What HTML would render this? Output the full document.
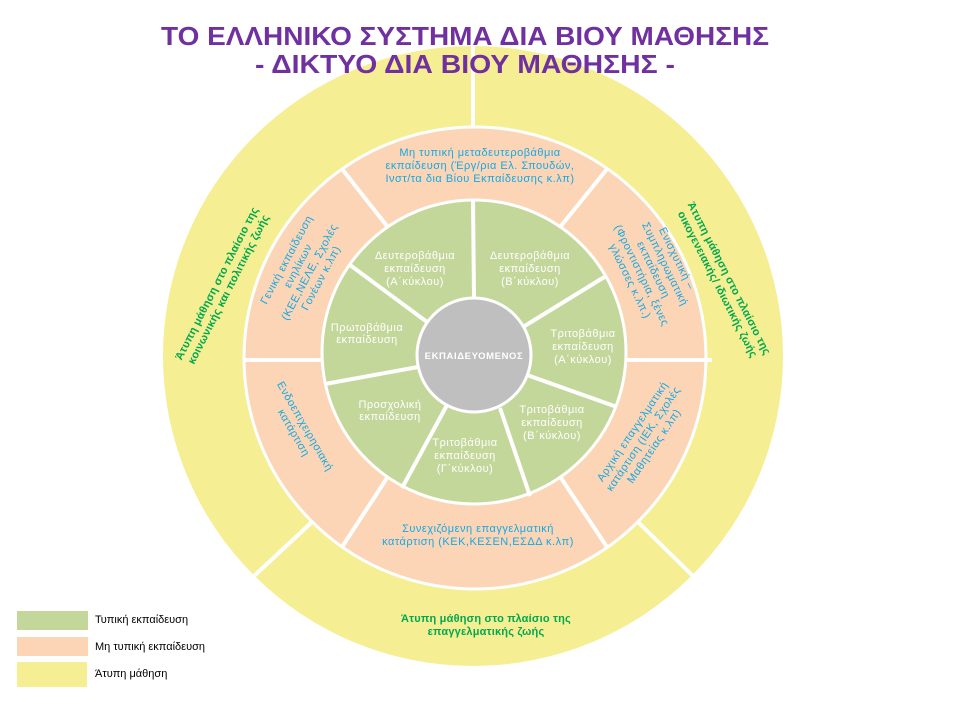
<!DOCTYPE html>
<html><head><meta charset="utf-8"><style>
html,body{margin:0;padding:0;background:#fff;}
svg{display:block;}
text{font-family:"Liberation Sans","DejaVu Sans",sans-serif;}
.b{fill:#14a9e6;font-size:11px;letter-spacing:0.5px;}
.w{fill:#fff;font-size:11px;letter-spacing:0.5px;}
.g{fill:#00a84f;font-size:11px;font-weight:bold;letter-spacing:0.2px;}
.l{fill:#000;font-size:11px;}
</style></head><body>
<svg width="960" height="720" viewBox="0 0 960 720" xmlns="http://www.w3.org/2000/svg">
<rect width="960" height="720" fill="#fff"/>
<circle cx="473" cy="356" r="310" fill="#f5ee93"/>
<circle cx="475" cy="358" r="231" fill="#fbd5b5" stroke="#fff" stroke-width="3"/>
<circle cx="474" cy="352" r="152" fill="#c4d79b" stroke="#fff" stroke-width="3"/>
<circle cx="474" cy="355" r="57" fill="#bfbfbf" stroke="#fff" stroke-width="3"/>
<g stroke="#fff" stroke-width="4">
<line x1="473" y1="44" x2="473" y2="128"/>
<line x1="254" y1="576" x2="312" y2="522"/>
<line x1="693" y1="576" x2="638" y2="522"/>
<line x1="387" y1="226" x2="342" y2="169"/>
<line x1="561" y1="226" x2="607" y2="169"/>
<line x1="322" y1="360" x2="243" y2="360"/>
<line x1="626" y1="360" x2="712" y2="360"/>
<line x1="387" y1="478" x2="342" y2="547"/>
<line x1="561" y1="478" x2="607" y2="547"/>
<line x1="474" y1="298" x2="473" y2="200"/>
<line x1="427" y1="322" x2="350" y2="265"/>
<line x1="418" y1="367" x2="325" y2="384"/>
<line x1="447" y1="405" x2="402" y2="488"/>
<line x1="500" y1="408" x2="530" y2="496"/>
<line x1="527" y1="375" x2="617" y2="407"/>
<line x1="523" y1="327" x2="606" y2="276"/>
</g>
<text x="465" y="45" text-anchor="middle" font-size="26" font-weight="bold" fill="#7030a0" textLength="608" lengthAdjust="spacingAndGlyphs">ΤΟ ΕΛΛΗΝΙΚΟ ΣΥΣΤΗΜΑ ΔΙΑ ΒΙΟΥ ΜΑΘΗΣΗΣ</text>
<text x="465" y="73" text-anchor="middle" font-size="26" font-weight="bold" fill="#7030a0" textLength="420" lengthAdjust="spacingAndGlyphs">- ΔΙΚΤΥΟ ΔΙΑ ΒΙΟΥ ΜΑΘΗΣΗΣ -</text>

<text x="474" y="359" text-anchor="middle" font-size="9.5" font-weight="bold" fill="#fff" letter-spacing="0.6">ΕΚΠΑΙΔΕΥΟΜΕΝΟΣ</text>

<g class="w" text-anchor="middle">
<text x="415" y="259">Δευτεροβάθμια</text><text x="415" y="272">εκπαίδευση</text><text x="415" y="285">(Α΄κύκλου)</text>
<text x="530" y="259">Δευτεροβάθμια</text><text x="530" y="272">εκπαίδευση</text><text x="530" y="285">(Β΄κύκλου)</text>
<text x="583" y="337">Τριτοβάθμια</text><text x="583" y="350">εκπαίδευση</text><text x="583" y="363">(Α΄κύκλου)</text>
<text x="552" y="413">Τριτοβάθμια</text><text x="552" y="426">εκπαίδευση</text><text x="552" y="439">(Β΄κύκλου)</text>
<text x="465" y="446">Τριτοβάθμια</text><text x="465" y="459">εκπαίδευση</text><text x="465" y="472">(Γ΄κύκλου)</text>
<text x="390" y="408">Προσχολική</text><text x="390" y="420">εκπαίδευση</text>
<text x="367" y="331">Πρωτοβάθμια</text><text x="367" y="343">εκπαίδευση</text>
</g>

<g class="b" text-anchor="middle">
<text x="480" y="156">Μη τυπική μεταδευτεροβάθμια</text>
<text x="480" y="169">εκπαίδευση (Έργ/ρια Ελ. Σπουδών,</text>
<text x="480" y="182">Ινστ/τα δια Βίου Εκπαίδευσης κ.λπ)</text>
<text x="478" y="532">Συνεχιζόμενη επαγγελματική</text>
<text x="478" y="545">κατάρτιση (ΚΕΚ,ΚΕΣΕΝ,ΕΣΔΔ κ.λπ)</text>
<g transform="translate(302,268) rotate(-62)">
<text x="0" y="-14">Γενική εκπαίδευση</text><text x="0" y="-1">ενηλίκων</text><text x="0" y="12">(ΚΕΕ,ΝΕΛΕ, Σχολές</text><text x="0" y="25">Γονέων κ.λπ)</text>
</g>
<g transform="translate(661,266) rotate(64)">
<text x="0" y="-14">Ενισχυτική –</text><text x="0" y="-1">Συμπληρωματική</text><text x="0" y="12">εκπαίδευση</text><text x="0" y="25">(Φροντιστήρια, ξένες</text><text x="0" y="38">γλώσσες κ.λπ.)</text>
</g>
<g transform="translate(302,428) rotate(60)">
<text x="0" y="0">Ενδοεπιχειρησιακή</text><text x="0" y="13">κατάρτιση</text>
</g>
<g transform="translate(642,438) rotate(-56)">
<text x="0" y="-8">Αρχική επαγγελματική</text><text x="0" y="5">κατάρτιση (ΙΕΚ, Σχολές</text><text x="0" y="18">Μαθητείας κ.λπ)</text>
</g>
</g>

<g class="g" text-anchor="middle">
<g transform="translate(220,285) rotate(-63)">
<text x="0" y="0">Άτυπη μάθηση στο πλαίσιο της</text><text x="0" y="13">κοινωνικής και πολιτικής ζωής</text>
</g>
<g transform="translate(726,280) rotate(63)">
<text x="0" y="0">Άτυπη μάθηση στο πλαίσιο της</text><text x="0" y="13">οικογενειακής/ ιδιωτικής ζωής</text>
</g>
<text x="486" y="622">Άτυπη μάθηση στο πλαίσιο της</text>
<text x="486" y="635">επαγγελματικής ζωής</text>
</g>

<rect x="17" y="611" width="71" height="19" fill="#c4d79b"/>
<rect x="17" y="637" width="71" height="19" fill="#fbd5b5"/>
<rect x="17" y="662" width="70" height="25" fill="#f5ee93"/>
<text class="l" x="95" y="623">Τυπική εκπαίδευση</text>
<text class="l" x="95" y="650">Μη τυπική εκπαίδευση</text>
<text class="l" x="95" y="677">Άτυπη μάθηση</text>
</svg>
</body></html>
